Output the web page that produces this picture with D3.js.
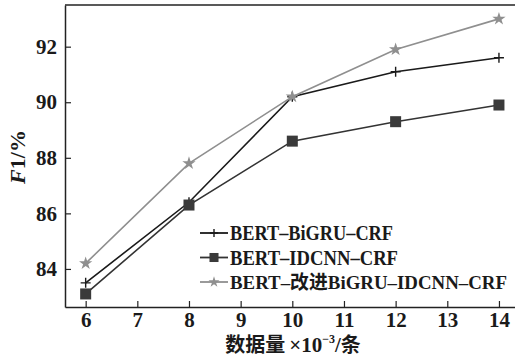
<!DOCTYPE html>
<html><head><meta charset="utf-8">
<script src="https://cdn.jsdelivr.net/npm/d3@7"></script>
<style>body{margin:0;background:#fff}svg{display:block}</style>
</head><body>
<svg id="c" width="515" height="358"></svg>
<script>
const xValues = [6, 8, 10, 12, 14];
const xTicks = [6, 7, 8, 9, 10, 11, 12, 13, 14];
const yTicks = [84, 86, 88, 90, 92];
const seriesNames = ["BERT\u2013BiGRU\u2013CRF", "BERT\u2013IDCNN\u2013CRF", "BERT\u2013\u6539\u8fdbBiGRU\u2013IDCNN\u2013CRF"];
const bigru = [83.5, 86.4, 90.2, 91.1, 91.6];
const idcnn = [83.1, 86.3, 88.6, 89.3, 89.9];
const improved = [84.2, 87.8, 90.2, 91.9, 93.0];

const svg = d3.select("#c");
const L = 65, T = 5, R = 516, B = 307;
const x = d3.scaleLinear().domain([5.6, 14.33]).range([L, R]);
const y = d3.scaleLinear().domain([82.63, 93.5]).range([B, T]);
const serif = "'Liberation Serif','Times New Roman',serif";

const series = [
  {name: seriesNames[0], vals: bigru, color: "#1a1a1a", mcolor: "#1a1a1a", marker: "plus", w: 163, fs: 20},
  {name: seriesNames[1], vals: idcnn, color: "#333", mcolor: "#3a3a3a", marker: "square", w: 168, fs: 20},
  {name: seriesNames[2], vals: improved, color: "#8f8f8f", mcolor: "#8f8f8f", marker: "star", w: 277, fs: 19}
];

svg.append("line").attr("x1", L).attr("x2", R).attr("y1", T).attr("y2", T).attr("stroke", "#222").attr("stroke-width", 1.5);

const xAxis = svg.append("g").attr("transform", `translate(0,${B})`)
  .call(d3.axisBottom(x).tickValues(xTicks).tickSizeInner(-6).tickSizeOuter(0).tickPadding(4).tickFormat(d3.format("d")));
const yAxis = svg.append("g").attr("transform", `translate(${L},0)`)
  .call(d3.axisLeft(y).tickValues(yTicks).tickSizeInner(-6).tickSizeOuter(0).tickPadding(8).tickFormat(d3.format("d")));
[xAxis, yAxis].forEach(g => {
  g.select(".domain").attr("stroke", "#222").attr("stroke-width", 1.5);
  g.selectAll(".tick line").attr("stroke", "#222").attr("stroke-width", 1.2);
  g.selectAll(".tick text").attr("fill", "#1a1a1a").style("font-family", serif).style("font-size", "21px").style("font-weight", "bold");
});
xAxis.selectAll(".tick text").attr("dy", "0.75em");

function drawMarker(g, type, cx, cy, color, scale) {
  scale = scale || 1;
  if (type === "plus") {
    const h = 5 * scale;
    g.append("path").attr("d", `M${cx-h},${cy}H${cx+h}M${cx},${cy-h}V${cy+h}`).attr("stroke", color).attr("stroke-width", 1.4).attr("fill", "none");
  } else if (type === "square") {
    const h = 5.5 * scale;
    g.append("rect").attr("x", cx-h).attr("y", cy-h).attr("width", 2*h).attr("height", 2*h).attr("fill", color);
  } else {
    g.append("path").attr("d", d3.symbol().type(d3.symbolStar).size(55 * scale * scale)()).attr("transform", `translate(${cx},${cy})`).attr("fill", color);
  }
}

const line = d3.line().x((d, i) => x(xValues[i])).y(d => y(d));
series.forEach(s => {
  svg.append("path").datum(s.vals).attr("d", line).attr("fill", "none").attr("stroke", s.color).attr("stroke-width", 1.6);
});
series.forEach(s => {
  const g = svg.append("g");
  s.vals.forEach((v, i) => drawMarker(g, s.marker, x(xValues[i]), y(v), s.mcolor));
});

const lg = svg.append("g");
series.forEach((s, i) => {
  const cy = 233 + i * 24.5;
  lg.append("line").attr("x1", 200).attr("x2", 228).attr("y1", cy).attr("y2", cy).attr("stroke", s.color).attr("stroke-width", 1.8);
  drawMarker(lg.append("g"), s.marker, 214, cy, s.mcolor, 0.82);
  lg.append("text").attr("x", 230).attr("y", cy).attr("dy", "0.36em")
    .style("font-family", serif + ",'Noto Sans CJK SC'").style("font-size", s.fs + "px").style("font-weight", "bold").attr("fill", "#1a1a1a")
    .attr("textLength", s.w).attr("lengthAdjust", "spacingAndGlyphs").text(s.name);
});

const yt = svg.append("text").attr("transform", `translate(25,157) rotate(-90)`).attr("text-anchor", "middle")
  .style("font-family", serif).style("font-size", "22px").style("font-weight", "bold").attr("fill", "#1a1a1a");
yt.append("tspan").style("font-style", "italic").text("F");
yt.append("tspan").text("1/%");

const parts = [
  {t: "\u6570\u636e\u91cf", f: "'Noto Sans CJK SC',sans-serif", s: 20, dy: 0},
  {t: "\u00d710", f: serif, s: 21, dy: 0, pad: 4},
  {t: "\u22123", f: serif, s: 12, dy: -9},
  {t: "/", f: serif, s: 21, dy: 0},
  {t: "\u6761", f: "'Noto Sans CJK SC',sans-serif", s: 20, dy: 0}
];
const xg = svg.append("g");
let cx = 0;
parts.forEach(p => {
  cx += (p.pad || 0);
  const n = xg.append("text").attr("x", cx).attr("y", 352 + p.dy)
    .style("font-family", p.f).style("font-size", p.s + "px").style("font-weight", "bold").attr("fill", "#1a1a1a").text(p.t);
  cx += n.node().getComputedTextLength();
});
xg.attr("transform", `translate(${293 - cx / 2},0)`);
</script>
</body></html>
